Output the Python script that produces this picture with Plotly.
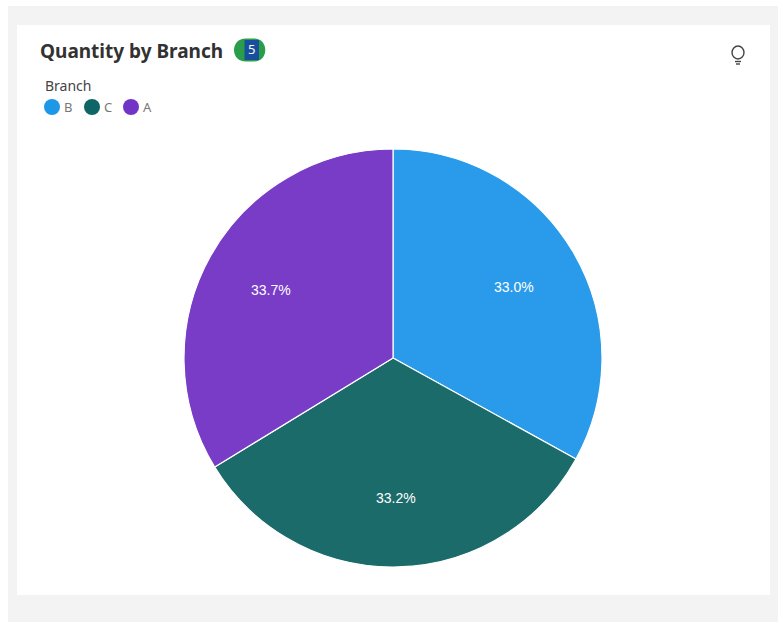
import math
import plotly.graph_objects as go

categories = ["B", "C", "A"]
quantities = [1820, 1831, 1859]
slice_colors = ["#2a9bea", "#1b6b6b", "#783cc6"]
legend_colors = ["#1192e8", "#005d5d", "#6929c4"]
title_text = "Quantity by Branch"
legend_title = "Branch"
badge_text = "5"

W, H = 778, 622
def px(x): return x / W
def py(y): return 1 - y / H

cx, cy, r = 393, 358, 209
fig = go.Figure(go.Pie(
    labels=categories, values=quantities, sort=False, direction="clockwise", rotation=0,
    marker=dict(colors=slice_colors, line=dict(color="white", width=1.2)),
    textinfo="none",
    domain=dict(x=[px(cx - r), px(cx + r)], y=[py(cy + r), py(cy - r)]),
    showlegend=False, hoverinfo="label+percent",
))

shapes = [
    dict(type="rect", x0=px(8), x1=1, y0=0, y1=py(6), fillcolor="#f3f3f3", line_width=0, layer="below"),
    dict(type="rect", x0=px(17), x1=px(770), y0=py(595), y1=py(25), fillcolor="white", line_width=0, layer="below"),
    dict(type="path", path=f"M {px(246)} {py(38.5)} L {px(254)} {py(38.5)} C {px(269)} {py(38.5)} {px(269)} {py(61.5)} {px(254)} {py(61.5)} L {px(246)} {py(61.5)} C {px(230)} {py(61.5)} {px(230)} {py(38.5)} {px(246)} {py(38.5)} Z",
         fillcolor="#2a9d4a", line_width=0),
    dict(type="rect", x0=px(244.5), x1=px(259), y0=py(60), y1=py(40), fillcolor="#174f9c", line_width=0),
    dict(type="circle", x0=px(732), x1=px(744), y0=py(59), y1=py(46), line=dict(color="#444", width=1.4)),
    dict(type="line", x0=px(735), x1=px(741), y0=py(61.5), y1=py(61.5), line=dict(color="#444", width=1.4)),
    dict(type="line", x0=px(736), x1=px(740), y0=py(64), y1=py(64), line=dict(color="#444", width=1.4)),
]
ann = [
    dict(x=px(38), y=py(50.5), text=f"<b>{title_text}</b>", xanchor="left", yanchor="middle",
         font=dict(size=19, color="#323232", family="Noto Sans")),
    dict(x=px(251), y=py(48.5), text=badge_text, xanchor="center", yanchor="middle",
         font=dict(size=13, color="white", family="Noto Sans")),
    dict(x=px(43), y=py(86), text=legend_title, xanchor="left", yanchor="middle",
         font=dict(size=14, color="#444", family="Noto Sans")),
]
for cat, col, x0 in zip(categories, legend_colors, [44, 84, 123]):
    shapes.append(dict(type="circle", x0=px(x0), x1=px(x0 + 16), y0=py(115), y1=py(99), fillcolor=col, line_width=0, opacity=0.95))
    ann.append(dict(x=px(x0 + 18), y=py(107), text=cat, xanchor="left", yanchor="middle",
                    font=dict(size=13, color="#777", family="Noto Sans")))

total = sum(quantities)
start = 0.0
for q in quantities:
    frac = q / total
    mid = (start + frac / 2) * 2 * math.pi
    start += frac
    ann.append(dict(x=px(cx + 0.67 * r * math.sin(mid)), y=py(cy - 0.67 * r * math.cos(mid)),
                    text=f"{frac * 100:.1f}%", xanchor="center", yanchor="middle",
                    font=dict(size=14, color="white", family="Liberation Sans")))

for a in ann:
    a.update(xref="paper", yref="paper", showarrow=False)
for s in shapes:
    s.update(xref="paper", yref="paper")

fig.update_layout(width=W, height=H, margin=dict(l=0, r=0, t=0, b=0), paper_bgcolor="white",
                  shapes=shapes, annotations=ann)
fig.write_html("out.html", config=dict(displayModeBar=False),
               post_script="document.body.style.margin='0';")
